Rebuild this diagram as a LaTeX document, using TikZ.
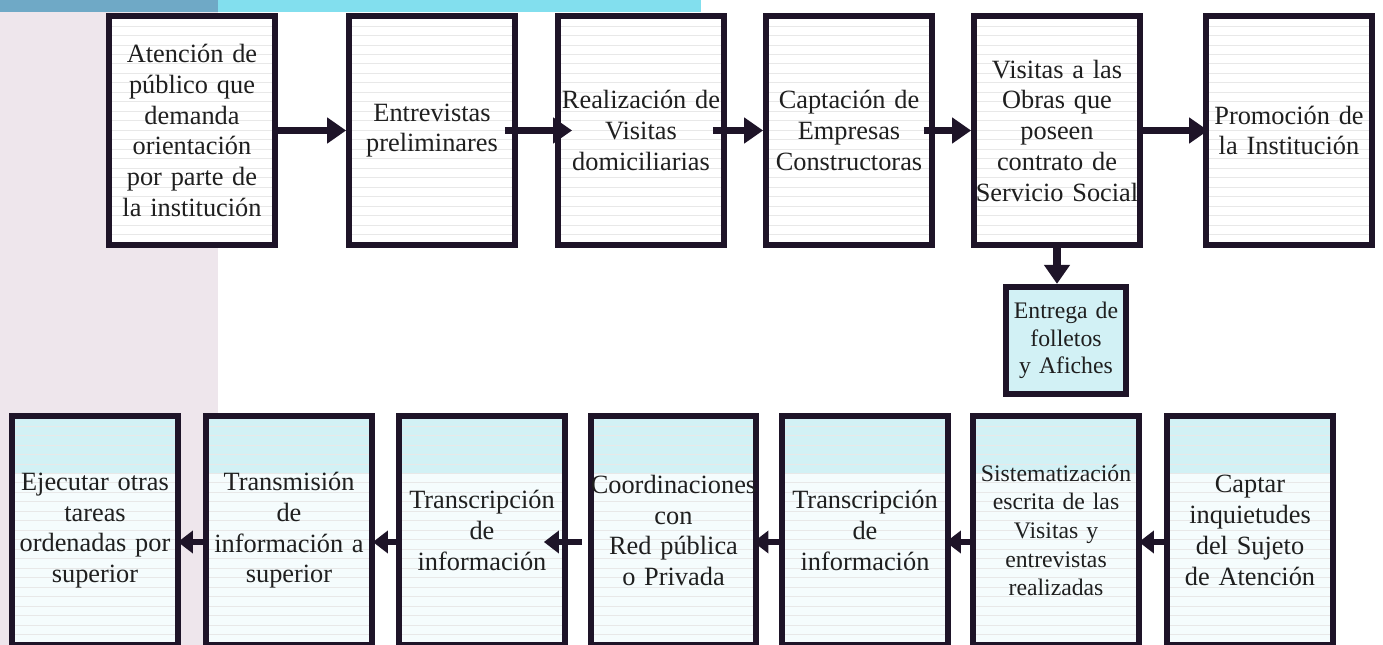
\documentclass[tikz,border=0pt]{standalone}
\usepackage{fontspec}
\setmainfont{Liberation Serif}
\usetikzlibrary{arrows.meta, positioning}

\definecolor{ink}{HTML}{1E1428}
\definecolor{paleblue}{HTML}{D2F1F5}
\definecolor{stripeL}{HTML}{6FA9C6}
\definecolor{stripeR}{HTML}{82DFEE}
\definecolor{lilac}{HTML}{EEE6EC}

% faint scan lines inside a box
\newcommand{\ruling}{%
  \foreach \k in {1,...,24}
    \draw[black!9, line width=0.3pt] ([yshift=-\k*0.19cm]path picture bounding box.north west)
      -- ([yshift=-\k*0.19cm]path picture bounding box.north east);}

\begin{document}
\begin{tikzpicture}[x=0.02cm, y=-0.02cm,
  task/.style={rectangle, draw=ink, line width=3.6pt, minimum width=3.31cm, minimum height=4.57cm,
    text width=3.5cm, inner xsep=-0.1cm, inner ysep=0pt, align=center, text=black!88,
    font=\fontsize{15}{17.5}\selectfont},
  topbox/.style={task, fill=white, path picture={\ruling}},
  lowbox/.style={task, fill=paleblue!22, path picture={
    \fill[paleblue] (path picture bounding box.north west) rectangle ([yshift=-1.15cm]path picture bounding box.north east);
    \ruling}},
  leaflet/.style={task, fill=paleblue, minimum width=2.4cm, minimum height=2.14cm, text width=2.6cm,
    font=\fontsize{13.5}{15.6}\selectfont},
  flow/.style={-{Triangle[length=0.38cm, width=0.5cm]}, line width=4pt, draw=ink},
  back/.style={-{Triangle[length=0.3cm, width=0.44cm]}, line width=3.4pt, draw=ink}
]
\useasboundingbox (0,0) rectangle (1383,645);

% background strips
\fill[lilac] (0,12) rectangle (218,645);
\fill[stripeL] (0,0) rectangle (218,12);
\fill[stripeR] (218,0) rectangle (701,12);

% upper row
\node[topbox] (atencion) at (192,130.5) {Atención de\\ público que\\ demanda\\ orientación\\ por parte de\\ la institución};
\node[topbox] (entrevistas) at (432,130.5) {Entrevistas\\ preliminares};
\node[topbox] (realizacion) at (641,130.5) {Realización de\\ Visitas\\ domiciliarias};
\node[topbox] (captacion) at (849,130.5) {Captación de\\ Empresas\\ Constructoras};
\node[topbox] (obras) at (1057,130.5) {Visitas a las\\ Obras que\\ poseen\\ contrato de\\ Servicio Social};
\node[topbox] (promocion) at (1289,130.5) {Promoción de\\ la Institución};
\node[leaflet] (folletos) at (1066,340.5) {Entrega de\\ folletos\\ y Afiches};

% lower row
\node[lowbox] (ejecutar) at (95,530.5) {Ejecutar otras\\ tareas\\ ordenadas por\\ superior};
\node[lowbox] (transmision) at (289,530.5) {Transmisión\\ de\\ información a\\ superior};
\node[lowbox] (transcripA) at (482,530.5) {Transcripción\\ de\\ información};
\node[lowbox] (coordina) at (673.5,530.5) {Coordinaciones\\ con\\ Red pública\\ o Privada};
\node[lowbox] (transcripB) at (865,530.5) {Transcripción\\ de\\ información};
\node[lowbox, font=\fontsize{13.5}{16.3}\selectfont] (sistema) at (1056,530.5) {Sistematización\\ escrita de las\\ Visitas y\\ entrevistas\\ realizadas};
\node[lowbox] (captar) at (1250,530.5) {Captar\\ inquietudes\\ del Sujeto\\ de Atención};

% arrows, upper row
\draw[flow] (atencion) -- (entrevistas);
\draw[flow, shorten <=-0.26cm, shorten >=-0.34cm] (entrevistas) -- (realizacion);
\draw[flow, shorten <=-0.28cm] (realizacion) -- (captacion);
\draw[flow, shorten <=-0.22cm] (captacion) -- (obras);
\draw[flow, shorten >=-0.1cm] (obras) -- (promocion);
\draw[flow] (obras.south) -- (obras.south |- folletos.north);

% arrows, lower row
\draw[back, shorten >=-0.06cm] ([yshift=-0.23cm]captar.west) -- ([yshift=-0.23cm]sistema.east);
\draw[back, shorten >=-0.1cm] ([yshift=-0.23cm]sistema.west) -- ([yshift=-0.23cm]transcripB.east);
\draw[back, shorten >=-0.12cm] ([yshift=-0.23cm]transcripB.west) -- ([yshift=-0.23cm]coordina.east);
\draw[back, shorten <=0.12cm, shorten >=-0.48cm] ([yshift=-0.23cm]coordina.west) -- ([yshift=-0.23cm]transcripA.east);
\draw[back, shorten >=-0.04cm] ([yshift=-0.23cm]transcripA.west) -- ([yshift=-0.23cm]transmision.east);
\draw[back, shorten >=-0.06cm] ([yshift=-0.23cm]transmision.west) -- ([yshift=-0.23cm]ejecutar.east);

\end{tikzpicture}
\end{document}
